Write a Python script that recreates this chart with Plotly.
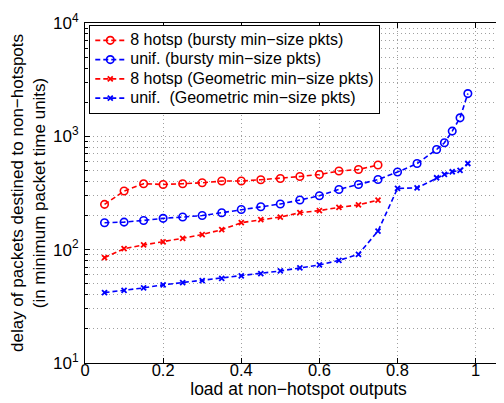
import plotly.graph_objects as go

x_bursty_hot = [0.05, 0.10, 0.15, 0.20, 0.25, 0.30, 0.35, 0.40, 0.45, 0.50, 0.55, 0.60, 0.65, 0.70, 0.75]
y_bursty_hot = [251, 329, 382, 376, 382, 389, 403, 403, 414, 425, 442, 460, 494, 510, 558]

x_unif = [0.05, 0.10, 0.15, 0.20, 0.25, 0.30, 0.35, 0.40, 0.45, 0.50, 0.55, 0.60, 0.65, 0.70, 0.75,
          0.80, 0.85, 0.90, 0.92, 0.94, 0.96, 0.98]
y_bursty_unif = [173, 175, 181, 189, 194, 200, 212, 226, 239, 253, 274, 299, 340, 376, 416,
                 484, 575, 765, 877, 1112, 1456, 2383]

x_geo_hot = [0.05, 0.10, 0.15, 0.20, 0.25, 0.30, 0.35, 0.40, 0.45, 0.50, 0.55, 0.60, 0.65, 0.70, 0.75]
y_geo_hot = [85, 102, 110, 117, 126, 136, 150, 173, 184, 194, 212, 221, 236, 248, 274]

y_geo_unif = [41.8, 43.8, 46, 48.9, 51.2, 53.3, 55.9, 58.7, 61.4, 64.9, 69, 73.3, 80.5, 91, 146,
              347, 351, 431, 461, 487, 500, 576]

names = ["8 hotsp (bursty min\u2212size pkts)",
         "unif. (bursty min\u2212size pkts)",
         "8 hotsp (Geometric min\u2212size pkts)",
         "unif.  (Geometric min\u2212size pkts)"]


def big(s):
    return '<span style="font-size:16px">' + s.replace("  ", "\u00a0 ") + "</span>"


RED = "#ff0000"
BLUE = "#0000ff"
DASH = "5px,3px"

fig = go.Figure()
fig.add_trace(go.Scatter(x=x_bursty_hot, y=y_bursty_hot, name=big(names[0]), mode="lines+markers",
                         line=dict(color=RED, dash=DASH, width=1.6),
                         marker=dict(symbol="circle-open", size=7.5, color=RED, line=dict(width=1.6))))
fig.add_trace(go.Scatter(x=x_unif, y=y_bursty_unif, name=big(names[1]), mode="lines+markers",
                         line=dict(color=BLUE, dash=DASH, width=1.6),
                         marker=dict(symbol="circle-open", size=7.5, color=BLUE, line=dict(width=1.6))))
fig.add_trace(go.Scatter(x=x_geo_hot, y=y_geo_hot, name=big(names[2]), mode="lines+markers",
                         line=dict(color=RED, dash=DASH, width=1.6),
                         marker=dict(symbol="x-thin", size=5, color=RED, line=dict(width=1.8, color=RED))))
fig.add_trace(go.Scatter(x=x_unif, y=y_geo_unif, name=big(names[3]), mode="lines+markers",
                         line=dict(color=BLUE, dash=DASH, width=1.6),
                         marker=dict(symbol="x-thin", size=5, color=BLUE, line=dict(width=1.8, color=BLUE))))

minor_vals = [m * 10 ** k for k in range(1, 4) for m in range(2, 10)]

GRID = "#a0a0a0"
GDASH = "1px,3px"

fig.update_layout(
    width=504, height=403,
    margin=dict(l=77, r=0, t=15, b=48),
    paper_bgcolor="white", plot_bgcolor="white",
    font=dict(family="Liberation Sans, Arial, sans-serif", size=16, color="black"),
    showlegend=True,
    legend=dict(x=0.01, y=0.995, xanchor="left", yanchor="top",
                bgcolor="white", bordercolor="black", borderwidth=1,
                font=dict(size=12.5), tracegroupgap=0, itemwidth=30),
    xaxis=dict(range=[0, 1.093], tickvals=[0, 0.2, 0.4, 0.6, 0.8, 1],
               ticktext=["0", "0.2", "0.4", "0.6", "0.8", "1"],
               showgrid=True, gridcolor=GRID, griddash=GDASH, gridwidth=1,
               showline=True, linecolor="black", linewidth=1, mirror="ticks",
               ticks="inside", ticklen=5, tickcolor="black", zeroline=False,
               tickfont=dict(size=16.5), ticklabelstandoff=-8,
               title=dict(text="load at non\u2212hotspot outputs", font=dict(size=17.5), standoff=0)),
    yaxis=dict(type="log", range=[1, 4],
               tickvals=[10, 100, 1000, 10000],
               ticktext=["10<sup>1</sup>", "10<sup>2</sup>", "10<sup>3</sup>", "10<sup>4</sup>"],
               showgrid=True, gridcolor=GRID, griddash=GDASH, gridwidth=1,
               showline=True, linecolor="black", linewidth=1,
               ticks="inside", ticklen=5, tickcolor="black", zeroline=False,
               tickfont=dict(size=17), ticklabelstandoff=2,
               minor=dict(tickvals=minor_vals, showgrid=True, gridcolor=GRID, griddash=GDASH,
                          ticks="inside", ticklen=3, tickcolor="black"),
               title=dict(text="delay of packets destined to non\u2212hotspots<br>(in minimum packet time units)",
                          font=dict(size=17), standoff=10)),
)

fig.write_html("out.html")
